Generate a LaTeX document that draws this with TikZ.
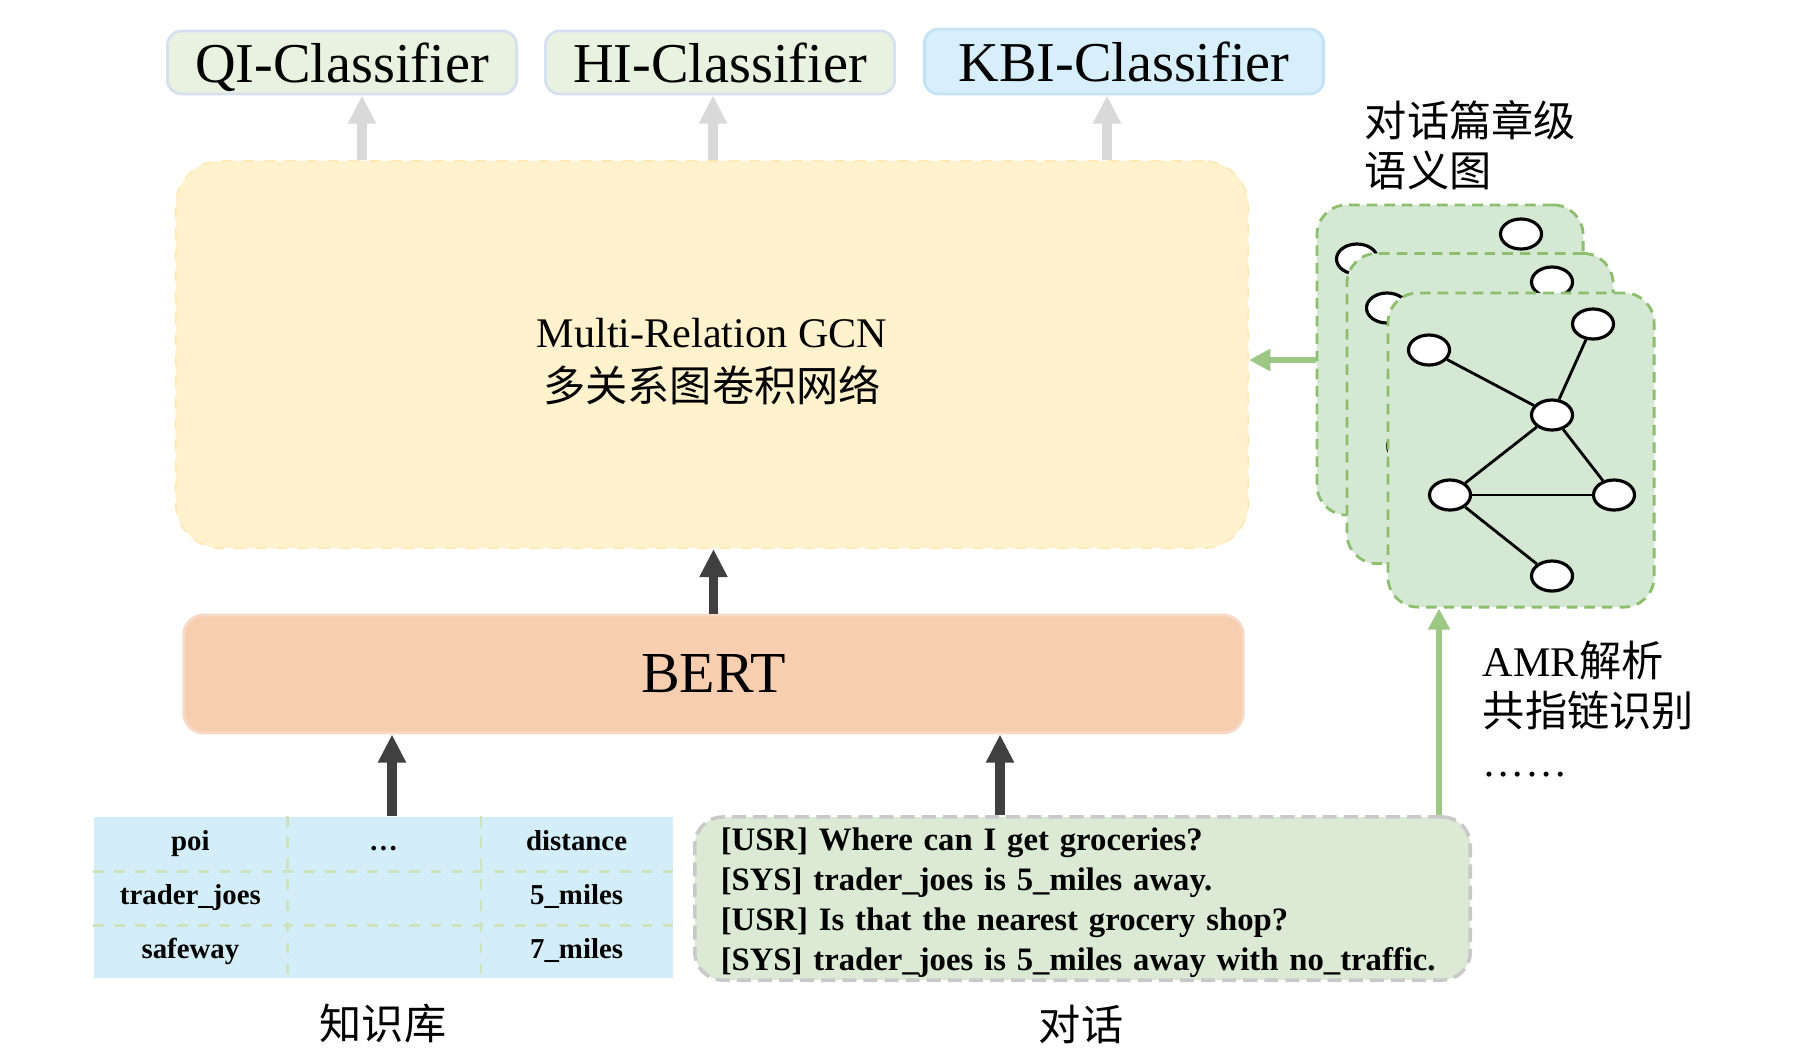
\documentclass[tikz,border=0pt]{standalone}
\usepackage{fontspec}
\setmainfont{Liberation Serif}
\newfontfamily\cjk{Noto Sans CJK SC}
\usetikzlibrary{arrows.meta,positioning,calc,shapes.geometric,matrix}
\definecolor{clsfill}{HTML}{E9F2E1}
\definecolor{clsedge}{HTML}{D6E0EE}
\definecolor{kbifill}{HTML}{D7EFFA}
\definecolor{kbiedge}{HTML}{C6E3F5}
\definecolor{upgray}{HTML}{D9D9D9}
\definecolor{gcnfill}{HTML}{FFF2CC}
\definecolor{gcnedge}{HTML}{FCE9B6}
\definecolor{bertfill}{HTML}{F8CEB0}
\definecolor{bertedge}{HTML}{F6D9C7}
\definecolor{darkink}{HTML}{404040}
\definecolor{kbfill}{HTML}{D3EEF8}
\definecolor{kbline}{HTML}{CFE2BE}
\definecolor{dlgfill}{HTML}{DCE9D4}
\definecolor{dlgedge}{HTML}{C9C9C9}
\definecolor{amrgreen}{HTML}{9DC784}
\definecolor{cardfill}{HTML}{D5E8D4}
\definecolor{cardedge}{HTML}{8CBE6E}
\tikzset{
  every picture/.style={line width=0.5pt},
  cls/.style={draw=clsedge, fill=clsfill, rounded corners=4pt, line width=0.8pt, inner sep=0pt, minimum width=3.49cm, minimum height=0.63cm, text height=11.3pt, text depth=0pt, font=\fontsize{16}{19}\selectfont},
  kbicls/.style={cls, draw=kbiedge, fill=kbifill, minimum width=3.99cm, minimum height=0.65cm},
  gcnbox/.style={draw=gcnedge, fill=gcnfill, dashed, rounded corners=0.45cm, minimum width=10.72cm, minimum height=3.87cm, align=center, font=\fontsize{12}{15.5}\selectfont},
  bertbox/.style={draw=bertedge, fill=bertfill, line width=0.8pt, rounded corners=0.2cm, minimum width=10.59cm, minimum height=1.18cm, font=\fontsize{16.5}{20}\selectfont},
  kbcell/.style={minimum width=1.93cm, minimum height=0.537cm, inner sep=0pt, anchor=center, text height=5.6pt, text depth=1.6pt, font=\bfseries\fontsize{8.2}{10}\selectfont},
  kbsep/.style={draw=kbline, dashed, line width=0.8pt},
  dlgbox/.style={draw=dlgedge, fill=dlgfill, line width=1pt, dash pattern=on 4pt off 2pt, rounded corners=0.28cm, minimum height=1.63cm, text width=7.23cm, inner xsep=0.26cm, inner ysep=0pt, align=left, font=\bfseries\fontsize{9.3}{11.4}\selectfont},
  card/.style={draw=cardedge, fill=cardfill, line width=0.8pt, dash pattern=on 3pt off 2pt, rounded corners=0.3cm, minimum width=2.66cm, minimum height=3.1cm, inner sep=0pt},
  vtx/.style={ellipse, draw=black, fill=white, line width=0.9pt, minimum width=0.41cm, minimum height=0.3cm, inner sep=0pt},
  link/.style={draw=black, line width=0.8pt},
  cjklbl/.style={font=\cjk\fontsize{12}{14.2}\selectfont, inner sep=0pt, align=left},
  lift/.style={-{Triangle[length=8pt,width=7.5pt]}, line width=2.6pt, color=upgray},
  feed/.style={-{Triangle[length=8pt,width=7.5pt]}, line width=2.6pt, color=darkink},
  amrflow/.style={-{Triangle[length=6pt,width=6pt]}, line width=1.7pt, color=amrgreen},
}

\begin{document}
\begin{tikzpicture}[x=0.01cm, y=-0.01cm]
  \useasboundingbox (0,0) rectangle (1804,1063);

  % classifiers on top
  \node[cls] (qi) at (342,62.5) {QI-Classifier};
  \node[cls] (hi) at (720,62.5) {HI-Classifier};
  \node[kbicls] (kbi) at (1124,61.5) {KBI-Classifier};

  % encoder stack
  \node[gcnbox] (gcn) at (712,354.5) {\rule{0pt}{12.3pt}Multi-Relation GCN\\{\cjk 多关系图卷积网络}};
  \node[bertbox] (bert) at (713.5,674) {BERT};

  \coordinate (qiin) at (362,0);
  \coordinate (hiin) at (713,0);
  \coordinate (kbiin) at (1107,0);
  \draw[lift] (gcn.north -| qiin) -- (qi.south -| qiin);
  \draw[lift] (gcn.north -| hiin) -- (hi.south -| hiin);
  \draw[lift] (gcn.north -| kbiin) -- (kbi.south -| kbiin);
  \draw[feed] (bert.north) -- (bert.north |- gcn.south);

  % knowledge base table
  \matrix (kb) [matrix of nodes, nodes in empty cells, fill=kbfill, inner sep=0pt,
    column sep=0pt, row sep=0pt, nodes={kbcell}] at (383.5,897.5) {
    poi & … & distance \\
    trader\_joes & & 5\_miles \\
    safeway & & 7\_miles \\
  };
  \draw[kbsep] (kb-1-1.north east) -- (kb-3-1.south east);
  \draw[kbsep] (kb-1-2.north east) -- (kb-3-2.south east);
  \draw[kbsep] (kb-1-1.south west) -- (kb-1-3.south east);
  \draw[kbsep] (kb-2-1.south west) -- (kb-2-3.south east);
  \node[cjklbl] (kblbl) at (383,1024) {知识库};

  % dialogue
  \node[dlgbox] (dlg) at (1082.5,898.5) {\rule{0pt}{8.7pt}[USR] Where can I get groceries?\\
    {[SYS]} trader\_joes is 5\_miles away.\\
    {[USR]} Is that the nearest grocery shop?\\
    {[SYS]} trader\_joes is 5\_miles away with no\_traffic.};
  \node[cjklbl] (dlglbl) at (1081,1024) {对话};

  \coordinate (kbin) at (392,0);
  \coordinate (dlgin) at (1000,0);
  \draw[feed] (kb.north -| kbin) -- (bert.south -| kbin);
  \draw[feed] (dlg.north -| dlgin) -- (bert.south -| dlgin);

  % stacked semantic graphs
  \node[card] (card3) at (1450,360) {};
  \node[vtx] (p1) at (1357,259) {};
  \node[vtx] (p2) at (1521,234) {};
  \node[card] (card2) at (1480,408.5) {};
  \node[vtx] (q1) at (1387,308) {};
  \node[vtx] (q2) at (1552,282) {};
  \node[vtx] (q3) at (1408,446) {};
  \node[card, minimum height=3.14cm] (card1) at (1521,450) {};
  \node[vtx] (va) at (1429,350) {};
  \node[vtx] (vb) at (1593,324) {};
  \node[vtx] (vc) at (1552,415) {};
  \node[vtx] (vd) at (1450,495) {};
  \node[vtx] (ve) at (1614,495) {};
  \node[vtx] (vf) at (1552,576) {};
  \draw[link] (va) -- (vc);
  \draw[link] (vb) -- (vc);
  \draw[link] (vc) -- (vd);
  \draw[link] (vc) -- (ve);
  \draw[link] (vd) -- (ve);
  \draw[link] (vd) -- (vf);

  \node[cjklbl, anchor=west] (semlbl) at (1364,145.5) {对话篇章级\\语义图};
  \node[cjklbl, anchor=north west] (amrlbl) at (1482,640) {{\rmfamily AMR}解析\\共指链识别\\{\rmfamily ……}};

  \coordinate (amrin) at (1439,0);
  \draw[amrflow] (dlg.north -| amrin) -- (card1.south -| amrin);
  \draw[amrflow] (card3.west) -- (card3.west -| gcn.east);
\end{tikzpicture}
\end{document}
